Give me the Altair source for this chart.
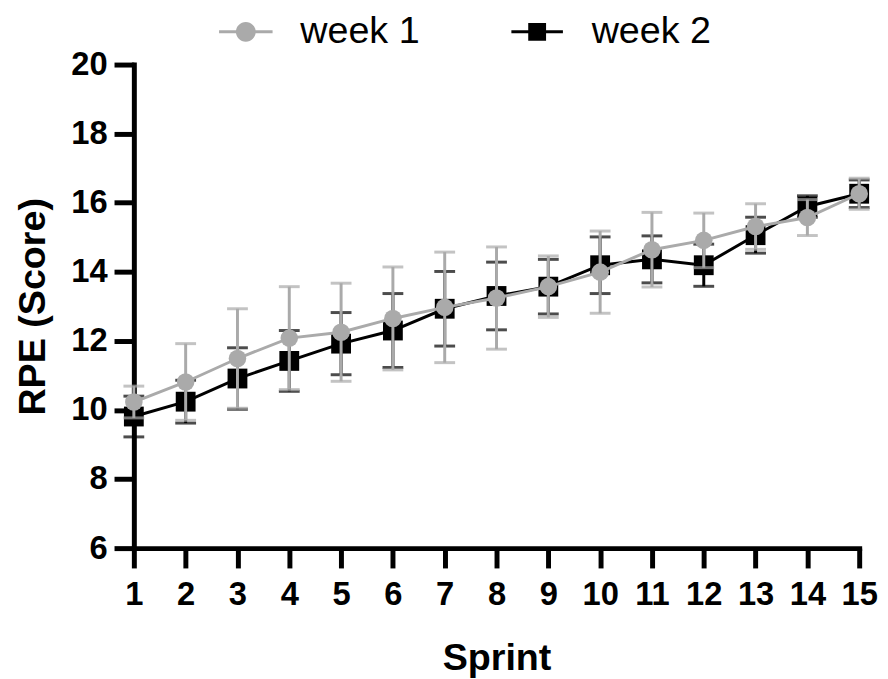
import altair as alt
import pandas as pd

# ---- data ----
sprints = list(range(1, 16))
week1_mean = [10.23, 10.81, 11.49, 12.08, 12.25, 12.65, 12.97, 13.24, 13.57, 13.99, 14.64, 14.91, 15.31, 15.57, 16.26]
week1_sd = [0.46, 1.11, 1.44, 1.49, 1.42, 1.49, 1.60, 1.48, 0.89, 1.19, 1.08, 0.79, 0.66, 0.52, 0.45]
week2_mean = [9.81, 10.24, 10.91, 11.42, 11.92, 12.30, 12.93, 13.30, 13.57, 14.19, 14.36, 14.19, 15.06, 15.89, 16.26]
week2_sd = [0.59, 0.62, 0.89, 0.88, 0.90, 1.07, 1.08, 0.98, 0.79, 0.82, 0.68, 0.61, 0.52, 0.31, 0.40]
series = ["week 1", "week 2"]
colors = ["#aaaaaa", "#000000"]
x_ticks = list(range(1, 16))
y_ticks = [6, 8, 10, 12, 14, 16, 18, 20]

FONT = "Liberation Sans"

df = pd.DataFrame({
    "sprint": sprints * 2,
    "mean": week1_mean + week2_mean,
    "sd": week1_sd + week2_sd,
    "week": [series[0]] * len(sprints) + [series[1]] * len(sprints),
})

x_axis = alt.Axis(
    values=x_ticks, title="Sprint", format="d", grid=False,
    labelFont=FONT, labelFontSize=33, labelFontWeight="bold", labelColor="black",
    labelBaseline="alphabetic", labelPadding=37, labelFlush=False, labelOverlap=False,
    tickSize=20, tickWidth=5, tickColor="black",
    domainWidth=5, domainColor="black", domainCap="square",
    titleFont=FONT, titleFontSize=38, titleFontWeight="bold", titleColor="black",
    titleBaseline="alphabetic", titleY=122, titleX=366,
)
y_axis = alt.Axis(
    values=y_ticks, title="RPE (Score)", format="d", grid=False,
    labelFont=FONT, labelFontSize=33, labelFontWeight="bold", labelColor="black",
    labelPadding=7, labelFlush=False, labelOverlap=False,
    tickSize=20, tickWidth=5, tickColor="black",
    domainWidth=5, domainColor="black", domainCap="square",
    titleFont=FONT, titleFontSize=38, titleFontWeight="bold", titleColor="black",
    titleBaseline="alphabetic", titleX=-90, titleY=244, titleAngle=270,
)
x_scale = alt.Scale(domain=[1, 15], nice=False, zero=False)
y_scale = alt.Scale(domain=[6, 20], nice=False, zero=False)

X = alt.X("sprint:Q", scale=x_scale, axis=x_axis, title="Sprint")


def Yf(field):
    return alt.Y(field, scale=y_scale, axis=y_axis, title="RPE (Score)")


def series_layers(name, color, shape, size):
    base = (
        alt.Chart(df)
        .transform_filter(alt.datum.week == name)
        .transform_calculate(lo="datum.mean - datum.sd", hi="datum.mean + datum.sd")
    )
    rule = base.mark_rule(color=color, strokeWidth=3).encode(x=X, y=Yf("lo:Q"), y2="hi:Q")
    cap_lo = base.mark_tick(color=color, orient="horizontal", size=21, thickness=3).encode(x=X, y=Yf("lo:Q"))
    cap_hi = base.mark_tick(color=color, orient="horizontal", size=21, thickness=3).encode(x=X, y=Yf("hi:Q"))
    line = base.mark_line(color=color, strokeWidth=3).encode(x=X, y=Yf("mean:Q"))
    pts = base.mark_point(shape=shape, filled=True, size=size, color=color, opacity=1).encode(x=X, y=Yf("mean:Q"))
    return [rule, cap_lo, cap_hi, line, pts]


legend_paths = [
    "M-2.7,-0.15H-0.9V0.15H-2.7Z M0.9,-0.15H2.7V0.15H0.9Z M1,0A1,1,0,1,1,-1,0A1,1,0,1,1,1,0Z",
    "M-2.6,-0.15H-0.9V0.15H-2.6Z M0.9,-0.15H2.6V0.15H0.9Z M-0.9,-0.9H0.9V0.9H-0.9Z",
]
legend = alt.Legend(
    title=None, orient="none", legendX=94, legendY=-52, direction="horizontal",
    labelFont=FONT, labelFontSize=38, labelColor="black",
    symbolSize=400, symbolStrokeWidth=0, labelOffset=36, columnPadding=92,
)
legend_df = pd.DataFrame({"week": series})
legend_layer = alt.Chart(legend_df).mark_point(filled=True, clip=True, opacity=1).encode(
    x=alt.value(-500), y=alt.value(-500),
    color=alt.Color("week:N", scale=alt.Scale(domain=series, range=colors), legend=legend),
    shape=alt.Shape("week:N", scale=alt.Scale(domain=series, range=legend_paths), legend=legend),
)

layers = series_layers(series[1], colors[1], "square", 400) + series_layers(series[0], colors[0], "circle", 314) + [legend_layer]

chart = alt.layer(*layers).properties(
    width=732, height=488,
    autosize=alt.AutoSizeParams(type="none"),
    padding={"left": 127, "top": 54, "right": 21, "bottom": 129},
    background="white",
).configure_view(stroke=None)

chart.save("out.html", embed_options={"renderer": "svg", "actions": False})
